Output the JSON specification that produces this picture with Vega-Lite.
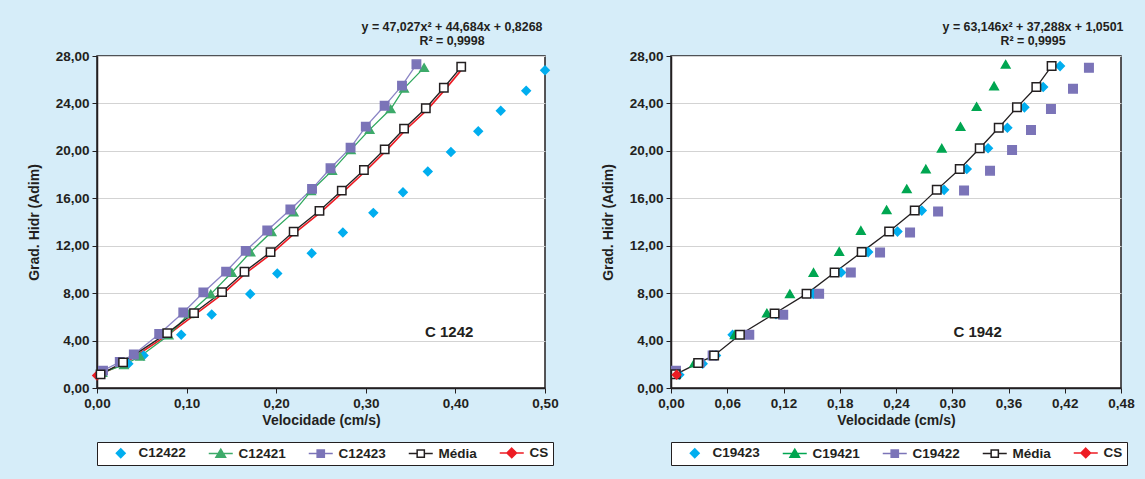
{
  "$schema": "https://vega.github.io/schema/vega-lite/v6.json",
  "background": "#d6edf9",
  "padding": {"left": 26, "top": 19, "right": 10, "bottom": 14},
  "config": {
    "locale": {"number": {"decimal": ",", "thousands": ".", "grouping": [3], "currency": ["", ""]}},
    "font": "Liberation Sans",
    "view": {"fill": "white", "stroke": "#231f20", "strokeWidth": 1.5},
    "axis": {"labelFont": "Liberation Sans", "labelFontWeight": "bold", "labelFontSize": 13.5, "labelColor": "#231f20", "titleFont": "Liberation Sans", "titleFontWeight": "bold", "titleFontSize": 14, "titleColor": "#231f20", "domainColor": "#231f20", "domainWidth": 1.5, "tickColor": "#231f20", "tickSize": 5, "gridColor": "#d3d3d3", "gridWidth": 1.2, "labelFlush": false},
    "axisX": {"grid": false, "labelPadding": 3, "titlePadding": 4},
    "axisY": {"grid": true, "labelPadding": 3, "titlePadding": 13.5},
    "legend": {
      "orient": "bottom", "direction": "horizontal",
      "fillColor": "white", "strokeColor": "#231f20", "padding": 4,
      "labelFont": "Liberation Sans", "labelFontWeight": "bold", "labelFontSize": 13.5, "labelColor": "#231f20",
      "symbolSize": 64, "symbolStrokeWidth": 1.5, "symbolOffset": 13, "labelOffset": 11, "columnPadding": 15, "offset": 14
    },
    "title": {"font": "Liberation Sans", "fontSize": 12.4, "fontWeight": "bold", "color": "#231f20", "lineHeight": 14, "offset": 2}
  },
  "datasets": {
    "left": [
      {"s": "CS", "v": 0.0, "g": 1.05},
      {"s": "CS", "v": 0.0315, "g": 2.11},
      {"s": "CS", "v": 0.081, "g": 4.58},
      {"s": "CS", "v": 0.1108, "g": 6.27},
      {"s": "CS", "v": 0.1421, "g": 8.04},
      {"s": "CS", "v": 0.1671, "g": 9.75},
      {"s": "CS", "v": 0.1962, "g": 11.41},
      {"s": "CS", "v": 0.222, "g": 13.14},
      {"s": "CS", "v": 0.2508, "g": 14.89},
      {"s": "CS", "v": 0.2757, "g": 16.6},
      {"s": "CS", "v": 0.3004, "g": 18.34},
      {"s": "CS", "v": 0.3236, "g": 20.08},
      {"s": "CS", "v": 0.3452, "g": 21.82},
      {"s": "CS", "v": 0.3695, "g": 23.54},
      {"s": "CS", "v": 0.3896, "g": 25.27},
      {"s": "CS", "v": 0.409, "g": 27.04},
      {"s": "C12422", "v": 0.035, "g": 2.05},
      {"s": "C12422", "v": 0.052, "g": 2.75},
      {"s": "C12422", "v": 0.094, "g": 4.49},
      {"s": "C12422", "v": 0.128, "g": 6.2},
      {"s": "C12422", "v": 0.171, "g": 7.92},
      {"s": "C12422", "v": 0.2012, "g": 9.65},
      {"s": "C12422", "v": 0.2396, "g": 11.37},
      {"s": "C12422", "v": 0.2744, "g": 13.12},
      {"s": "C12422", "v": 0.3084, "g": 14.77},
      {"s": "C12422", "v": 0.3415, "g": 16.51},
      {"s": "C12422", "v": 0.3692, "g": 18.25},
      {"s": "C12422", "v": 0.395, "g": 19.91},
      {"s": "C12422", "v": 0.4255, "g": 21.65},
      {"s": "C12422", "v": 0.4506, "g": 23.39},
      {"s": "C12422", "v": 0.479, "g": 25.07},
      {"s": "C12422", "v": 0.5, "g": 26.8},
      {"s": "C12421", "v": 0.006, "g": 1.3},
      {"s": "C12421", "v": 0.03, "g": 1.95},
      {"s": "C12421", "v": 0.048, "g": 2.66},
      {"s": "C12421", "v": 0.08, "g": 4.45},
      {"s": "C12421", "v": 0.1027, "g": 6.26},
      {"s": "C12421", "v": 0.127, "g": 7.92},
      {"s": "C12421", "v": 0.1505, "g": 9.74},
      {"s": "C12421", "v": 0.1713, "g": 11.46},
      {"s": "C12421", "v": 0.1949, "g": 13.17},
      {"s": "C12421", "v": 0.2195, "g": 14.83},
      {"s": "C12421", "v": 0.239, "g": 16.62},
      {"s": "C12421", "v": 0.2625, "g": 18.33},
      {"s": "C12421", "v": 0.2833, "g": 20.08},
      {"s": "C12421", "v": 0.3043, "g": 21.79},
      {"s": "C12421", "v": 0.3278, "g": 23.53},
      {"s": "C12421", "v": 0.3427, "g": 25.27},
      {"s": "C12421", "v": 0.3651, "g": 27.02},
      {"s": "C12423", "v": 0.0067, "g": 1.46},
      {"s": "C12423", "v": 0.0254, "g": 2.19},
      {"s": "C12423", "v": 0.0411, "g": 2.83},
      {"s": "C12423", "v": 0.0694, "g": 4.55},
      {"s": "C12423", "v": 0.0963, "g": 6.37},
      {"s": "C12423", "v": 0.1187, "g": 8.06},
      {"s": "C12423", "v": 0.1441, "g": 9.82},
      {"s": "C12423", "v": 0.166, "g": 11.57},
      {"s": "C12423", "v": 0.19, "g": 13.28},
      {"s": "C12423", "v": 0.2158, "g": 15.05},
      {"s": "C12423", "v": 0.24, "g": 16.79},
      {"s": "C12423", "v": 0.2606, "g": 18.53},
      {"s": "C12423", "v": 0.283, "g": 20.27},
      {"s": "C12423", "v": 0.3, "g": 22.04},
      {"s": "C12423", "v": 0.321, "g": 23.8},
      {"s": "C12423", "v": 0.3404, "g": 25.5},
      {"s": "C12423", "v": 0.3565, "g": 27.3},
      {"s": "Média", "v": 0.004, "g": 1.15},
      {"s": "Média", "v": 0.0291, "g": 2.16},
      {"s": "Média", "v": 0.0784, "g": 4.63},
      {"s": "Média", "v": 0.1083, "g": 6.32},
      {"s": "Média", "v": 0.1396, "g": 8.09},
      {"s": "Média", "v": 0.1646, "g": 9.8},
      {"s": "Média", "v": 0.1937, "g": 11.46},
      {"s": "Média", "v": 0.2195, "g": 13.19},
      {"s": "Média", "v": 0.2483, "g": 14.94},
      {"s": "Média", "v": 0.2732, "g": 16.65},
      {"s": "Média", "v": 0.2979, "g": 18.39},
      {"s": "Média", "v": 0.3211, "g": 20.13},
      {"s": "Média", "v": 0.3427, "g": 21.87},
      {"s": "Média", "v": 0.367, "g": 23.59},
      {"s": "Média", "v": 0.3871, "g": 25.32},
      {"s": "Média", "v": 0.4065, "g": 27.09}
    ],
    "right": [
      {"s": "C19423", "v": 0.0089, "g": 1.12},
      {"s": "C19423", "v": 0.0338, "g": 2.05},
      {"s": "C19423", "v": 0.048, "g": 2.75},
      {"s": "C19423", "v": 0.0657, "g": 4.49},
      {"s": "C19423", "v": 0.112, "g": 6.23},
      {"s": "C19423", "v": 0.1517, "g": 7.94},
      {"s": "C19423", "v": 0.1815, "g": 9.74},
      {"s": "C19423", "v": 0.2103, "g": 11.46},
      {"s": "C19423", "v": 0.2416, "g": 13.19},
      {"s": "C19423", "v": 0.2675, "g": 14.96},
      {"s": "C19423", "v": 0.2913, "g": 16.71},
      {"s": "C19423", "v": 0.3155, "g": 18.47},
      {"s": "C19423", "v": 0.3382, "g": 20.22},
      {"s": "C19423", "v": 0.3588, "g": 21.95},
      {"s": "C19423", "v": 0.377, "g": 23.67},
      {"s": "C19423", "v": 0.397, "g": 25.38},
      {"s": "C19423", "v": 0.415, "g": 27.15},
      {"s": "C19421", "v": 0.005, "g": 1.2},
      {"s": "C19421", "v": 0.0249, "g": 2.1},
      {"s": "C19421", "v": 0.0444, "g": 2.75},
      {"s": "C19421", "v": 0.068, "g": 4.49},
      {"s": "C19421", "v": 0.1023, "g": 6.32},
      {"s": "C19421", "v": 0.1268, "g": 7.94},
      {"s": "C19421", "v": 0.152, "g": 9.74},
      {"s": "C19421", "v": 0.1794, "g": 11.51},
      {"s": "C19421", "v": 0.2025, "g": 13.28},
      {"s": "C19421", "v": 0.23, "g": 15.02},
      {"s": "C19421", "v": 0.2515, "g": 16.79},
      {"s": "C19421", "v": 0.2718, "g": 18.47},
      {"s": "C19421", "v": 0.2888, "g": 20.22},
      {"s": "C19421", "v": 0.3088, "g": 22.04},
      {"s": "C19421", "v": 0.326, "g": 23.73},
      {"s": "C19421", "v": 0.3446, "g": 25.47},
      {"s": "C19421", "v": 0.357, "g": 27.3},
      {"s": "C19422", "v": 0.0053, "g": 1.46},
      {"s": "C19422", "v": 0.0302, "g": 2.1},
      {"s": "C19422", "v": 0.0444, "g": 2.75},
      {"s": "C19422", "v": 0.0835, "g": 4.49},
      {"s": "C19422", "v": 0.1197, "g": 6.18},
      {"s": "C19422", "v": 0.158, "g": 7.94},
      {"s": "C19422", "v": 0.1918, "g": 9.74},
      {"s": "C19422", "v": 0.223, "g": 11.42},
      {"s": "C19422", "v": 0.255, "g": 13.11},
      {"s": "C19422", "v": 0.2849, "g": 14.88},
      {"s": "C19422", "v": 0.3126, "g": 16.65},
      {"s": "C19422", "v": 0.3403, "g": 18.33},
      {"s": "C19422", "v": 0.3638, "g": 20.08},
      {"s": "C19422", "v": 0.384, "g": 21.76},
      {"s": "C19422", "v": 0.4053, "g": 23.53},
      {"s": "C19422", "v": 0.4288, "g": 25.24},
      {"s": "C19422", "v": 0.4458, "g": 27.0},
      {"s": "Média", "v": 0.005, "g": 1.15},
      {"s": "Média", "v": 0.029, "g": 2.1},
      {"s": "Média", "v": 0.046, "g": 2.75},
      {"s": "Média", "v": 0.0735, "g": 4.49},
      {"s": "Média", "v": 0.1105, "g": 6.28},
      {"s": "Média", "v": 0.1446, "g": 7.94},
      {"s": "Média", "v": 0.1745, "g": 9.74},
      {"s": "Média", "v": 0.2034, "g": 11.46},
      {"s": "Média", "v": 0.2327, "g": 13.19},
      {"s": "Média", "v": 0.26, "g": 14.96},
      {"s": "Média", "v": 0.2835, "g": 16.71},
      {"s": "Média", "v": 0.308, "g": 18.47},
      {"s": "Média", "v": 0.3293, "g": 20.22},
      {"s": "Média", "v": 0.3496, "g": 21.95},
      {"s": "Média", "v": 0.369, "g": 23.67},
      {"s": "Média", "v": 0.3897, "g": 25.38},
      {"s": "Média", "v": 0.406, "g": 27.15},
      {"s": "CS", "v": 0.006, "g": 1.12}
    ]
  },
  "hconcat": [
    {
      "width": 448,
      "height": 332,
      "title": {"text": ["y = 47,027x² + 44,684x + 0,8268", "\u00a0\u00a0\u00a0\u00a0\u00a0\u00a0\u00a0\u00a0\u00a0R² = 0,9998"], "anchor": "end", "align": "center", "frame": "group", "dx": -93},
      "data": {"name": "left"},
      "encoding": {
        "x": {"field": "v", "type": "quantitative", "scale": {"domain": [0, 0.5], "nice": false, "padding": 0}, "axis": {"title": "Velocidade (cm/s)", "values": [0, 0.1, 0.2, 0.3, 0.4, 0.5], "format": ".2f"}},
        "y": {"field": "g", "type": "quantitative", "scale": {"domain": [0, 28], "nice": false, "padding": 0}, "axis": {"title": "Grad. Hidr (Adim)", "values": [0, 4, 8, 12, 16, 20, 24, 28], "format": ".2f"}}
      },
      "layer": [
        {"transform": [{"filter": "datum.s === 'CS'"}], "mark": {"type": "line", "color": "#ed1c24", "strokeWidth": 1.6}},
        {"transform": [{"filter": "datum.s === 'C12421'"}], "mark": {"type": "line", "color": "#2fa85e", "strokeWidth": 1.3}},
        {"transform": [{"filter": "datum.s === 'C12423'"}], "mark": {"type": "line", "color": "#8a84c4", "strokeWidth": 1.3}},
        {"transform": [{"filter": "datum.s === 'Média'"}], "mark": {"type": "line", "color": "#231f20", "strokeWidth": 1.3}},
        {
          "transform": [{"filter": "datum.s !== 'CS' || datum.v < 0.001"}],
          "mark": {"type": "point", "opacity": 1, "strokeWidth": 1.5, "size": 70},
          "encoding": {
            "fill": {"field": "s", "type": "nominal", "scale": {"domain": ["C12422", "C12421", "C12423", "Média", "CS"], "range": ["#00aeef", "#3daa6a", "#7b74b8", "white", "#ed1c24"]}, "legend": null},
            "stroke": {"field": "s", "type": "nominal", "scale": {"domain": ["C12422", "C12421", "C12423", "Média", "CS"], "range": ["#00aeef", "#3daa6a", "#7b74b8", "#231f20", "#ed1c24"]}, "legend": null},
            "shape": {"field": "s", "type": "nominal", "scale": {"domain": ["C12422", "C12421", "C12423", "Média", "CS"], "range": ["diamond", "triangle-up", "square", "square", "diamond"]}, "legend": null}
          }
        },
        {
          "transform": [{"filter": "false"}],
          "mark": {"type": "point", "opacity": 1, "strokeWidth": 1.5},
          "encoding": {
            "fill": {"field": "s", "type": "nominal", "title": null, "scale": {"domain": ["C12422", "C12421", "C12423", "Média", "CS"], "range": ["#00aeef", "#3daa6a", "#7b74b8", "white", "#ed1c24"]}},
            "stroke": {"field": "s", "type": "nominal", "title": null, "scale": {"domain": ["C12422", "C12421", "C12423", "Média", "CS"], "range": ["#00aeef", "#3daa6a", "#7b74b8", "#231f20", "#ed1c24"]}},
            "shape": {"field": "s", "type": "nominal", "title": null, "scale": {"domain": ["C12422", "C12421", "C12423", "Média", "CS"], "range": ["M0,-1.1L1.1,0L0,1.1L-1.1,0Z", "M-3,0H3M0,-1.1L1.2,0.9L-1.2,0.9Z", "M-3,0H3M-0.9,-0.9H0.9V0.9H-0.9Z", "M-3,0H-0.9M0.9,0H3M-0.9,-0.9H0.9V0.9H-0.9Z", "M-3,0H3M0,-1.2L1.2,0L0,1.2L-1.2,0Z"]}}
          }
        },
        {
          "data": {"values": [{"lbl": "C 1242", "v": 0.393, "g": 4.74}]},
          "mark": {"type": "text", "fontSize": 15, "fontWeight": "bold", "color": "#231f20", "font": "Liberation Sans"},
          "encoding": {"text": {"field": "lbl"}}
        }
      ],
      "resolve": {"scale": {"fill": "independent", "stroke": "independent", "shape": "independent"}, "legend": {"fill": "independent", "stroke": "independent", "shape": "independent"}}
    },
    {
      "width": 450,
      "height": 332,
      "title": {"text": ["y = 63,146x² + 37,288x + 1,0501", "\u00a0\u00a0\u00a0\u00a0\u00a0\u00a0\u00a0\u00a0\u00a0R² = 0,9995"], "anchor": "end", "align": "center", "frame": "group", "dx": -88},
      "data": {"name": "right"},
      "encoding": {
        "x": {"field": "v", "type": "quantitative", "scale": {"domain": [0, 0.48], "nice": false, "padding": 0}, "axis": {"title": "Velocidade (cm/s)", "values": [0, 0.06, 0.12, 0.18, 0.24, 0.3, 0.36, 0.42, 0.48], "format": ".2f"}},
        "y": {"field": "g", "type": "quantitative", "scale": {"domain": [0, 28], "nice": false, "padding": 0}, "axis": {"title": "Grad. Hidr (Adim)", "values": [0, 4, 8, 12, 16, 20, 24, 28], "format": ".2f"}}
      },
      "layer": [
        {"transform": [{"filter": "datum.s === 'Média'"}], "mark": {"type": "line", "color": "#231f20", "strokeWidth": 1.3}},
        {
          "mark": {"type": "point", "opacity": 1, "strokeWidth": 1.5, "size": 72},
          "encoding": {
            "fill": {"field": "s", "type": "nominal", "scale": {"domain": ["C19423", "C19421", "C19422", "Média", "CS"], "range": ["#00aeef", "#00a651", "#7b74b8", "white", "#ed1c24"]}, "legend": null},
            "stroke": {"field": "s", "type": "nominal", "scale": {"domain": ["C19423", "C19421", "C19422", "Média", "CS"], "range": ["#00aeef", "#00a651", "#7b74b8", "#231f20", "#ed1c24"]}, "legend": null},
            "shape": {"field": "s", "type": "nominal", "scale": {"domain": ["C19423", "C19421", "C19422", "Média", "CS"], "range": ["diamond", "triangle-up", "square", "square", "diamond"]}, "legend": null}
          }
        },
        {
          "transform": [{"filter": "false"}],
          "mark": {"type": "point", "opacity": 1, "strokeWidth": 1.5},
          "encoding": {
            "fill": {"field": "s", "type": "nominal", "title": null, "scale": {"domain": ["C19423", "C19421", "C19422", "Média", "CS"], "range": ["#00aeef", "#00a651", "#7b74b8", "white", "#ed1c24"]}},
            "stroke": {"field": "s", "type": "nominal", "title": null, "scale": {"domain": ["C19423", "C19421", "C19422", "Média", "CS"], "range": ["#00aeef", "#00a651", "#7b74b8", "#231f20", "#ed1c24"]}},
            "shape": {"field": "s", "type": "nominal", "title": null, "scale": {"domain": ["C19423", "C19421", "C19422", "Média", "CS"], "range": ["M0,-1.1L1.1,0L0,1.1L-1.1,0Z", "M-3,0H3M0,-1.1L1.2,0.9L-1.2,0.9Z", "M-3,0H3M-0.9,-0.9H0.9V0.9H-0.9Z", "M-3,0H-0.9M0.9,0H3M-0.9,-0.9H0.9V0.9H-0.9Z", "M-3,0H3M0,-1.2L1.2,0L0,1.2L-1.2,0Z"]}}
          }
        },
        {
          "data": {"values": [{"lbl": "C 1942", "v": 0.327, "g": 4.74}]},
          "mark": {"type": "text", "fontSize": 15, "fontWeight": "bold", "color": "#231f20", "font": "Liberation Sans"},
          "encoding": {"text": {"field": "lbl"}}
        }
      ],
      "resolve": {"scale": {"fill": "independent", "stroke": "independent", "shape": "independent"}, "legend": {"fill": "independent", "stroke": "independent", "shape": "independent"}}
    }
  ],
  "spacing": 41,
  "resolve": {"scale": {"fill": "independent", "stroke": "independent", "shape": "independent"}, "legend": {"fill": "independent", "stroke": "independent", "shape": "independent"}}
}
